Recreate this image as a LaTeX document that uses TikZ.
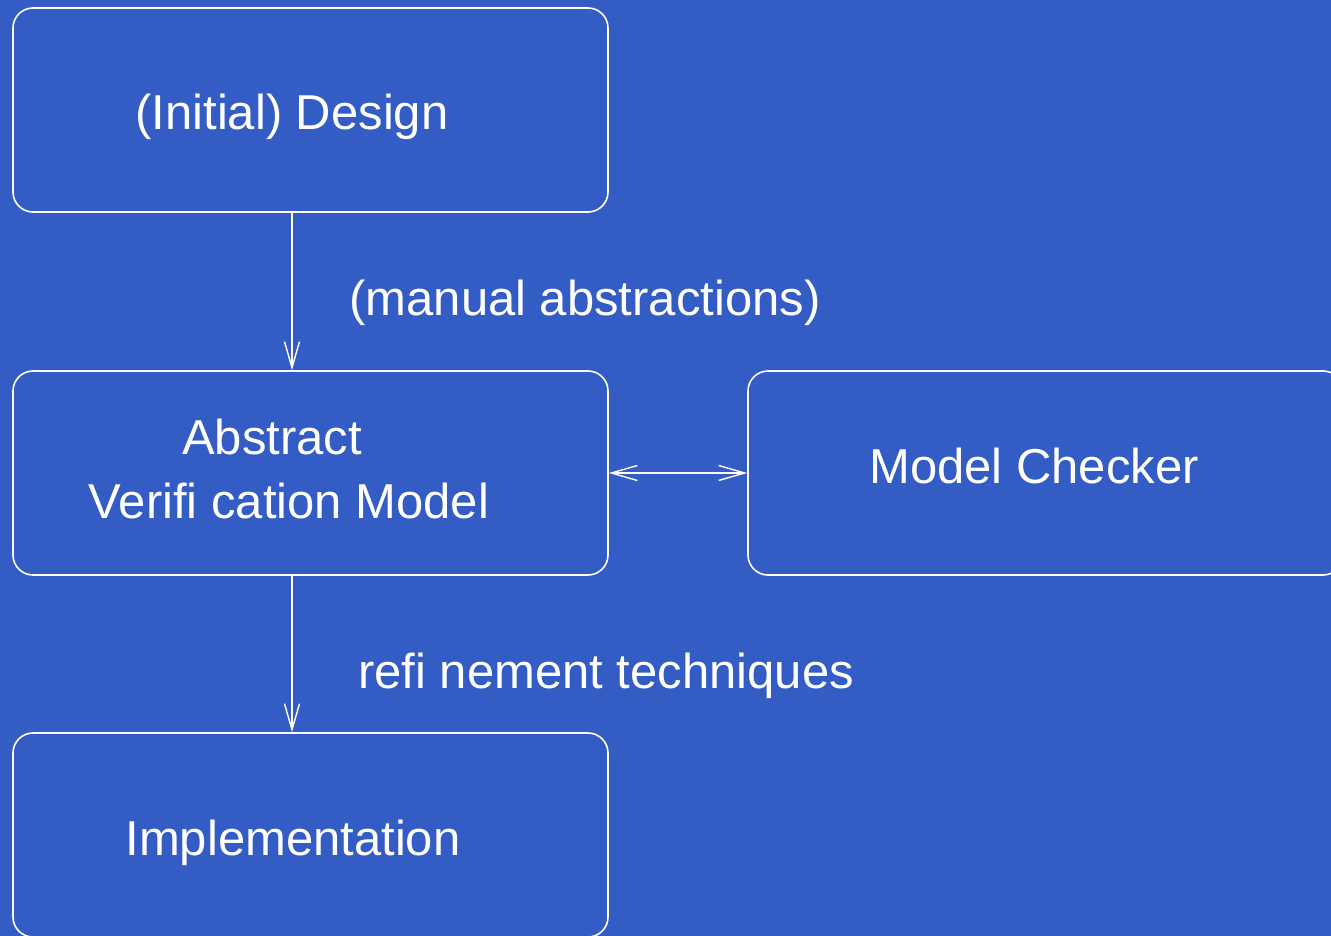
\documentclass[tikz,border=0pt]{standalone}
\usepackage{fontspec}
\setmainfont{Liberation Sans}
\usetikzlibrary{arrows.meta}
\definecolor{bg}{HTML}{335CC4}
\begin{document}
\begin{tikzpicture}[x=1pt,y=-1pt,
  box/.style={draw=white,line width=1.6pt,rounded corners=20pt,minimum width=595pt,minimum height=204pt,inner sep=0pt},
  lbl/.style={text=white,font=\fontsize{49}{58}\selectfont,anchor=base,inner sep=0pt},
  conn/.style={draw=white,line width=1.4pt,-{Straight Barb[length=26pt,width=15pt,line width=1.4pt]}},
  dconn/.style={draw=white,line width=1.4pt,{Straight Barb[length=26pt,width=15pt,line width=1.4pt]}-{Straight Barb[length=26pt,width=15pt,line width=1.4pt]}}]
\fill[bg] (0,0) rectangle (1331,936);
\useasboundingbox (0,0) rectangle (1331,936);
\clip (0,0) rectangle (1331,936);
\node[box] (design) at (310.5,110) {};
\node[box] (avm) at (310.5,473) {};
\node[box] (mc) at (1045.5,473) {};
\node[box] (impl) at (310.5,835) {};
\coordinate (ax) at (292,0);
\node[lbl] (t1) at (292,130) {(Initial) Design};
\node[lbl] (t2a) at (272,454) {Abstract};
\node[lbl] (t2b) at (289,518) {Verifi cation Model};
\node[lbl] (t3) at (1034,483) {Model Checker};
\node[lbl] (t4) at (293,855) {Implementation};
\node[lbl] (l1) at (585,315) {(manual abstractions)};
\node[lbl] (l2) at (606,688) {refi nement techniques};
\draw[conn] (design.south -| ax) -- (avm.north -| ax);
\draw[conn] (avm.south -| ax) -- (impl.north -| ax);
\draw[dconn] (avm.east) -- (mc.west);
\end{tikzpicture}
\end{document}
